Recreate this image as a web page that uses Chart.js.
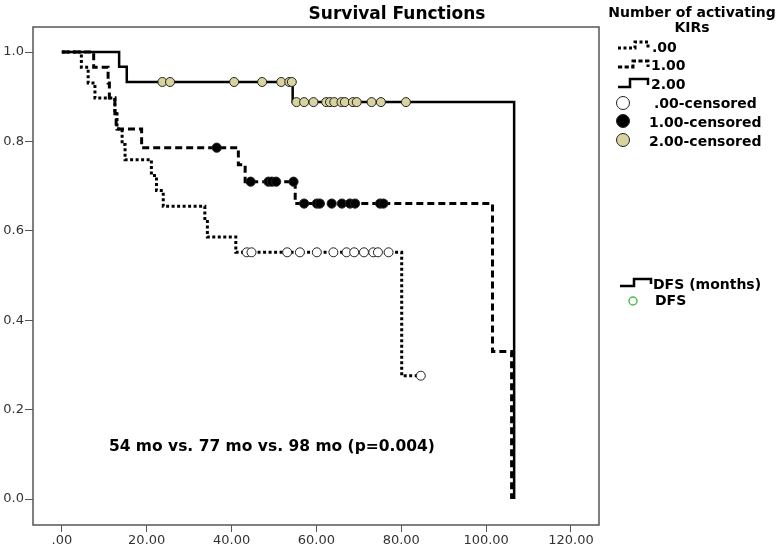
<!DOCTYPE html>
<html>
<head>
<meta charset="utf-8">
<script src="https://cdn.jsdelivr.net/npm/chart.js@4.4.1/dist/chart.umd.min.js"></script>
<style>
  html, body { margin: 0; padding: 0; background: #fff; }
  #wrap { width: 781px; height: 550px; }
</style>
</head>
<body>
<div id="wrap"><canvas id="kmChart" width="781" height="550"></canvas></div>
<script>
// Kaplan-Meier steps: event time (months) and survival after that step
const times0 = [0, 4.6, 6.2, 7.8, 12.5, 13.0, 14.2, 14.9, 21.1, 22.3, 23.9, 33.7, 34.3, 41.0, 80.1, 84.6];
const surv0  = [1, 0.966, 0.931, 0.897, 0.862, 0.828, 0.793, 0.759, 0.724, 0.690, 0.655, 0.621, 0.586, 0.552, 0.276, 0.276];
const times1 = [0, 7.5, 10.9, 11.2, 12.5, 12.8, 18.8, 41.6, 43.2, 55.0, 101.5, 106.0];
const surv1  = [1, 0.966, 0.931, 0.897, 0.862, 0.828, 0.786, 0.748, 0.710, 0.661, 0.330, 0];
const times2 = [0, 13.5, 15.3, 54.4, 106.6];
const surv2  = [1, 0.967, 0.933, 0.888, 0];

// censored cases (months)
const cens0 = [43.6, 44.7, 53.1, 56.1, 60.1, 64.0, 67.1, 68.9, 71.2, 73.4, 74.5, 77.0, 84.6];
const cens1 = [36.5, 44.5, 48.7, 49.5, 50.5, 54.6, 57.1, 60.1, 60.8, 63.6, 66.0, 67.9, 69.1, 75.0, 75.8];
const cens2 = [23.7, 25.5, 40.6, 47.2, 51.7, 53.6, 54.2, 55.3, 57.1, 59.3, 62.3, 63.2, 64.2, 65.9, 66.7, 68.6, 69.5, 73.0, 75.2, 81.1];

const groupLabels = [".00", "1.00", "2.00"];
const xTicks = [0, 20, 40, 60, 80, 100, 120];
const xTickLabels = [".00", "20.00", "40.00", "60.00", "80.00", "100.00", "120.00"];
const yTicks = [0, 0.2, 0.4, 0.6, 0.8, 1.0];
const yTickLabels = ["0.0", "0.2", "0.4", "0.6", "0.8", "1.0"];

const FONT = "'DejaVu Sans', sans-serif";
const DOTTED = [3, 2.5];
const DASHED = [7, 4];
const KHAKI = "#d9d39f";

function levelAt(times, surv, t) {
  let s = surv[0];
  for (let i = 0; i < times.length; i++) {
    if (times[i] <= t) s = surv[i];
  }
  return s;
}

function stepLine(label, times, surv, dash, width) {
  return {
    label: label,
    data: times.map((t, i) => ({ x: t, y: surv[i] })),
    stepped: true,
    borderColor: "#000",
    borderWidth: width,
    borderDash: dash,
    borderCapStyle: "butt",
    pointRadius: 0,
    fill: false,
    order: 2
  };
}

function censMarks(label, cens, times, surv, fillColor, r) {
  return {
    type: "scatter",
    label: label,
    data: cens.map(t => ({ x: t, y: levelAt(times, surv, t) })),
    showLine: false,
    pointRadius: r,
    pointBackgroundColor: fillColor,
    pointBorderColor: "#222",
    pointBorderWidth: 1,
    order: 1
  };
}

function drawStepSample(ctx, x0, x1, x2, yLow, yHigh, yEnd, dash, width) {
  ctx.save();
  ctx.strokeStyle = "#000";
  ctx.lineWidth = width;
  ctx.setLineDash(dash);
  ctx.beginPath();
  ctx.moveTo(x0, yLow);
  ctx.lineTo(x1, yLow);
  ctx.lineTo(x1, yHigh);
  ctx.lineTo(x2, yHigh);
  ctx.lineTo(x2, yEnd);
  ctx.stroke();
  ctx.restore();
}

function drawCircle(ctx, x, y, r, fill, stroke, lw) {
  ctx.save();
  ctx.beginPath();
  ctx.arc(x, y, r, 0, Math.PI * 2);
  if (fill) { ctx.fillStyle = fill; ctx.fill(); }
  ctx.lineWidth = lw;
  ctx.strokeStyle = stroke;
  ctx.stroke();
  ctx.restore();
}

const decorPlugin = {
  id: "kmDecor",
  afterDraw(chart) {
    const ctx = chart.ctx;
    const a = chart.chartArea;
    const xs = chart.scales.x, ys = chart.scales.y;

    // plot frame
    ctx.save();
    ctx.strokeStyle = "#555";
    ctx.lineWidth = 1.5;
    ctx.strokeRect(a.left, a.top, a.right - a.left, a.bottom - a.top);
    ctx.restore();

    ctx.save();
    ctx.fillStyle = "#000";
    ctx.textBaseline = "alphabetic";

    // title
    ctx.font = "bold 17px " + FONT;
    ctx.textAlign = "center";
    ctx.fillText("Survival Functions", 397, 18.5);

    // median annotation
    ctx.font = "bold 15.5px " + FONT;
    ctx.textAlign = "center";
    ctx.fillText("54 mo vs. 77 mo vs. 98 mo (p=0.004)", xs.getPixelForValue(49.5), ys.getPixelForValue(0.107));

    // legend
    ctx.font = "bold 14px " + FONT;
    ctx.fillText("Number of activating", 692, 17);
    ctx.fillText("KIRs", 692, 31.5);

    ctx.textAlign = "left";
    drawStepSample(ctx, 618, 635, 648, 48, 42, 48, DOTTED, 3);
    ctx.fillText(groupLabels[0], 652, 51.5);
    drawStepSample(ctx, 618, 633, 648, 67, 61, 67, DASHED.map(v => v * 0.6), 3);
    ctx.fillText(groupLabels[1], 651, 70);
    drawStepSample(ctx, 618, 630, 648, 87, 79, 85, [], 2.5);
    ctx.fillText(groupLabels[2], 651, 89);

    drawCircle(ctx, 623, 103, 6.5, "#fff", "#222", 1);
    ctx.fillText(groupLabels[0] + "-censored", 654, 108);
    drawCircle(ctx, 623, 121, 6.5, "#000", "#222", 1);
    ctx.fillText(groupLabels[1] + "-censored", 649, 126.5);
    drawCircle(ctx, 623, 140, 6.5, KHAKI, "#222", 1);
    ctx.fillText(groupLabels[2] + "-censored", 649, 145.5);

    drawStepSample(ctx, 620, 634, 651, 286, 279, 284, [], 2.5);
    ctx.fillText("DFS (months)", 653, 289);
    drawCircle(ctx, 633, 301, 4, null, "#4cbf4c", 1.5);
    ctx.fillText("DFS", 655, 305);
    ctx.restore();
  }
};

const tickFont = { family: FONT, size: 13 };

new Chart(document.getElementById("kmChart"), {
  type: "line",
  data: {
    datasets: [
      censMarks(groupLabels[0] + "-censored", cens0, times0, surv0, "#fff", 4.5),
      censMarks(groupLabels[1] + "-censored", cens1, times1, surv1, "#000", 4.6),
      censMarks(groupLabels[2] + "-censored", cens2, times2, surv2, KHAKI, 4.5),
      stepLine(groupLabels[0], times0, surv0, DOTTED, 3),
      stepLine(groupLabels[1], times1, surv1, DASHED, 3),
      stepLine(groupLabels[2], times2, surv2, [], 2.5)
    ]
  },
  options: {
    responsive: false,
    animation: false,
    devicePixelRatio: 1,
    layout: { padding: { top: 27, right: 182, left: 0, bottom: 0 } },
    plugins: {
      legend: { display: false },
      title: { display: false },
      tooltip: { enabled: false }
    },
    scales: {
      x: {
        type: "linear",
        min: -6.8,
        max: 126.6,
        afterBuildTicks: s => { s.ticks = xTicks.map(v => ({ value: v })); },
        afterFit: s => { s.height = 25; },
        ticks: {
          callback: (v, i) => xTickLabels[i],
          font: tickFont,
          color: "#333",
          padding: 1,
          maxRotation: 0,
          autoSkip: false
        },
        grid: { drawOnChartArea: false, tickLength: 7, color: "#555", lineWidth: 1 },
        border: { display: false }
      },
      y: {
        type: "linear",
        min: -0.058,
        max: 1.056,
        afterBuildTicks: s => { s.ticks = yTicks.map(v => ({ value: v })); },
        afterFit: s => { s.width = 33; },
        ticks: {
          callback: (v, i) => yTickLabels[i],
          font: tickFont,
          color: "#333",
          padding: 1,
          autoSkip: false
        },
        grid: { drawOnChartArea: false, tickLength: 8, color: "#555", lineWidth: 1 },
        border: { display: false }
      }
    }
  },
  plugins: [decorPlugin]
});
</script>
</body>
</html>
